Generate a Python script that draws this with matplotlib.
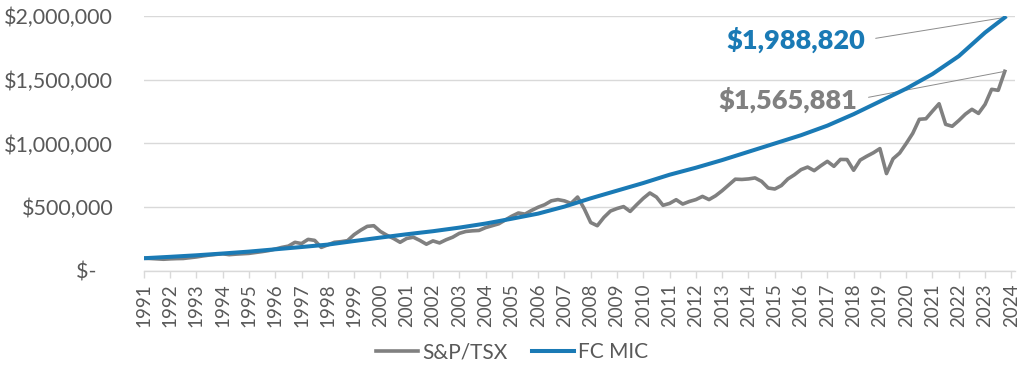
import matplotlib
matplotlib.use("Agg")
import matplotlib.pyplot as plt
import matplotlib.ticker as mticker
import numpy as np

# ---------------- data ----------------
# FC MIC, read at start of each year (and final quarter), in dollars
fc_years = [1991, 1992, 1993, 1994, 1995, 1996, 1997, 1998, 1999, 2000,
            2001, 2002, 2003, 2004, 2005, 2006, 2007, 2008, 2009, 2010,
            2011, 2012, 2013, 2014, 2015, 2016, 2017, 2018, 2019, 2020,
            2021, 2022, 2023, 2023.75]
fc_values = [100000, 111000, 123000, 137000, 152000, 170000, 188000, 207000,
             235000, 262000, 288000, 312000, 340000, 372000, 410000, 450000,
             505000, 570000, 630000, 690000, 755000, 810000, 870000, 935000,
             1000000, 1065000, 1140000, 1230000, 1330000, 1430000, 1545000,
             1685000, 1870000, 1988820]

# S&P/TSX, quarterly from 1991 Q1, in thousands of dollars
tsx_start = 1991.0
tsx_values_k = [
    100, 98, 95, 92, 95, 97, 98, 104,
    110, 118, 125, 130, 135, 128, 132, 135,
    138, 145, 152, 160, 172, 185, 195, 225,
    215, 248, 240, 185, 205, 225, 230, 238,
    285, 320, 350, 355, 310, 280, 255, 225,
    255, 265, 240, 210, 236, 220, 245, 265,
    295, 310, 315, 318, 340, 355, 370, 400,
    430, 455, 446, 475, 500, 520, 550, 560,
    550, 530, 580, 490, 380, 355, 420, 470,
    490, 505, 467, 520, 570, 612, 580, 515,
    530, 559, 525, 545, 560, 585, 560, 590,
    630, 675, 720, 718, 722, 730, 703, 651,
    643, 670, 722, 755, 795, 815, 787, 825,
    860, 821, 875, 874, 790, 870, 900, 927,
    960, 764, 880, 925, 1000, 1080, 1190, 1194,
    1254, 1312, 1150, 1135, 1180, 1230, 1268, 1236,
    1307, 1425, 1417, 1565.881,
]
tsx_years = [tsx_start + 0.25 * i for i in range(len(tsx_values_k))]
tsx_values = [v * 1000 for v in tsx_values_k]

year_ticks = list(range(1991, 2025))
y_ticks = [0, 500000, 1000000, 1500000, 2000000]
series_names = ["S&P/TSX", "FC MIC"]
final_labels = ["$1,565,881", "$1,988,820"]

# ---------------- style ----------------
BLUE = "#1a7ab5"
GRAY = "#808080"
TEXT = "#595959"
GRID = "#d9d9d9"
plt.rcParams['font.family'] = ['Lato', 'DejaVu Sans']

fig = plt.figure(figsize=(10.24, 3.73), dpi=100)
ax = fig.add_axes([0.1404, 0.2735, 0.991 - 0.1404, 0.6836])

ax.plot(tsx_years, tsx_values, color=GRAY, lw=2.6, label=series_names[0],
        solid_joinstyle='round', zorder=3)
ax.plot(fc_years, fc_values, color=BLUE, lw=2.9, label=series_names[1],
        solid_joinstyle='round', zorder=4)

ax.set_xlim(1991, 2024.13)
ax.set_ylim(0, 2000000)
ax.set_xticks(year_ticks)
ax.set_xticklabels([str(y) for y in year_ticks], rotation=90)
ax.set_yticks(y_ticks)

def yfmt(v, pos):
    if v == 0:
        return "$-   "
    return "${:,.0f}".format(v)
ax.yaxis.set_major_formatter(mticker.FuncFormatter(yfmt))

ax.grid(axis='y', color=GRID, lw=1)
ax.set_axisbelow(True)
for s in ['top', 'right', 'left']:
    ax.spines[s].set_visible(False)
ax.spines['bottom'].set_color(GRID)
ax.spines['bottom'].set_linewidth(1)
ax.tick_params(axis='x', colors=GRID, labelcolor=TEXT, length=5, width=1,
               pad=4, labelsize=13.5)
ax.tick_params(axis='y', length=0, pad=22, labelcolor=TEXT, labelsize=15.5)

# annotations
ax.annotate(final_labels[1], xy=(fc_years[-1], fc_values[-1]),
            xytext=(2018.42, 1811000), textcoords='data',
            ha='right', va='center', fontsize=19.5, fontweight='heavy', color=BLUE,
            arrowprops=dict(arrowstyle='-', color='#8c8c8c', lw=0.7,
                            relpos=(1, 0.5), shrinkA=6, shrinkB=0))
ax.annotate(final_labels[0], xy=(tsx_years[-1], tsx_values[-1]),
            xytext=(2018.15, 1346000), textcoords='data',
            ha='right', va='center', fontsize=19.5, fontweight='heavy', color=GRAY,
            arrowprops=dict(arrowstyle='-', color='#8c8c8c', lw=0.7,
                            relpos=(1, 0.5), shrinkA=6, shrinkB=0))

leg = fig.legend(loc='center', bbox_to_anchor=(0.5, 0.056), ncol=2, frameon=False,
                 fontsize=15, handlelength=2.0, handletextpad=0.2, columnspacing=1.2)
for t in leg.get_texts():
    t.set_color(TEXT)

fig.savefig("out.png", dpi=100)
